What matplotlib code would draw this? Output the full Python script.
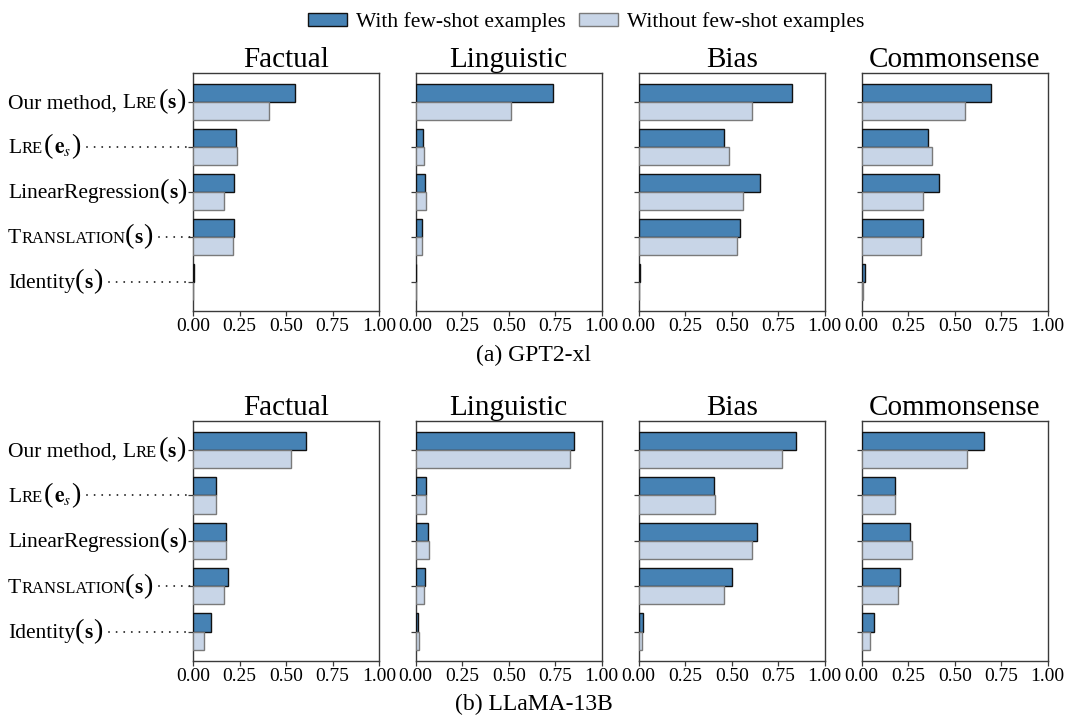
import matplotlib
matplotlib.use("Agg")
import matplotlib.pyplot as plt
import numpy as np
from matplotlib.offsetbox import TextArea, HPacker, AnnotationBbox
from matplotlib import transforms
from matplotlib.lines import Line2D
from matplotlib.patches import Patch

# ---------------- data ----------------
methods = ["Our method, LRE(s)", "LRE(e_s)", "LinearRegression(s)", "Translation(s)", "Identity(s)"]
relations = ["Factual", "Linguistic", "Bias", "Commonsense"]
models = ["(a) GPT2-xl", "(b) LLaMA-13B"]
legend_labels = ["With few-shot examples", "Without few-shot examples"]
xtick_vals = [0.0, 0.25, 0.5, 0.75, 1.0]
xtick_labels = ["0.00", "0.25", "0.50", "0.75", "1.00"]

# GPT2-xl
gpt2_factual_with = [0.547, 0.233, 0.219, 0.223, 0.005]
gpt2_factual_without = [0.406, 0.239, 0.169, 0.216, 0.002]
gpt2_linguistic_with = [0.740, 0.041, 0.052, 0.032, 0.003]
gpt2_linguistic_without = [0.511, 0.043, 0.054, 0.034, 0.001]
gpt2_bias_with = [0.823, 0.460, 0.650, 0.547, 0.007]
gpt2_bias_without = [0.610, 0.487, 0.562, 0.528, 0.002]
gpt2_commonsense_with = [0.697, 0.358, 0.416, 0.331, 0.016]
gpt2_commonsense_without = [0.554, 0.376, 0.331, 0.320, 0.009]

# LLaMA-13B
llama_factual_with = [0.605, 0.126, 0.180, 0.187, 0.099]
llama_factual_without = [0.525, 0.125, 0.175, 0.169, 0.061]
llama_linguistic_with = [0.850, 0.054, 0.065, 0.048, 0.010]
llama_linguistic_without = [0.832, 0.054, 0.070, 0.043, 0.016]
llama_bias_with = [0.844, 0.404, 0.637, 0.503, 0.022]
llama_bias_without = [0.772, 0.411, 0.609, 0.460, 0.018]
llama_commonsense_with = [0.659, 0.180, 0.262, 0.206, 0.065]
llama_commonsense_without = [0.565, 0.180, 0.271, 0.195, 0.045]

panels = [
    [(gpt2_factual_with, gpt2_factual_without),
     (gpt2_linguistic_with, gpt2_linguistic_without),
     (gpt2_bias_with, gpt2_bias_without),
     (gpt2_commonsense_with, gpt2_commonsense_without)],
    [(llama_factual_with, llama_factual_without),
     (llama_linguistic_with, llama_linguistic_without),
     (llama_bias_with, llama_bias_without),
     (llama_commonsense_with, llama_commonsense_without)],
]

# ---------------- style ----------------
plt.rcParams["font.family"] = ["Liberation Serif", "DejaVu Serif"]
plt.rcParams["mathtext.fontset"] = "stix"

C_WITH = "#4682b4"
C_WITHOUT = "#c8d5e7"
E_WITH = "#111111"
E_WITHOUT = "#7a7a7a"
SPINE = "#3a3a3a"

W, H = 1068, 719
fig = plt.figure(figsize=(W / 100, H / 100), dpi=100)

col_lefts = [193, 415.7, 638.7, 861.7]
col_width = 186
row_spans = [(72.7, 310.7), (421.0, 660.7)]
caption_y = [355, 704]

LBL = 15.5
SC = 12.0
PAR = 20.5


def label_pieces(name):
    def t(s, size=LBL, weight="normal"):
        return TextArea(s, textprops=dict(fontsize=size, fontweight=weight,
                                          family=["Liberation Serif", "DejaVu Serif"]))
    s_bold = t("s", weight="bold")
    lp, rp = t("(", PAR), t(")", PAR)
    if name.startswith("Our method"):
        parts = [t("Our method, "), t("L"), t("RE", SC), t(" ", 5), lp, s_bold, rp]
    elif name.startswith("LRE(e_s)"):
        parts = [t("L"), t("RE", SC), t(" ", 5), lp, t(r"$\mathbf{e}_{s}$"), rp]
    elif name.startswith("LinearRegression"):
        parts = [t("LinearRegression"), lp, s_bold, rp]
    elif name.startswith("Translation"):
        parts = [t("T"), t("RANSLATION", SC), lp, s_bold, rp]
    else:
        parts = [t("Identity"), lp, s_bold, rp]
    return HPacker(children=parts, sep=0, pad=0, align="baseline")


label_boxes = []
y = np.arange(len(methods))
for r, (top, bot) in enumerate(row_spans):
    for c, rel in enumerate(relations):
        ax = fig.add_axes([col_lefts[c] / W, 1 - bot / H, col_width / W, (bot - top) / H])
        vw, vwo = panels[r][c]
        ax.barh(y - 0.2, vw, height=0.4, color=C_WITH, edgecolor=E_WITH, linewidth=1.0, zorder=3)
        ax.barh(y + 0.2, vwo, height=0.4, color=C_WITHOUT, edgecolor=E_WITHOUT, linewidth=1.0, zorder=3)
        ax.set_xlim(0, 1)
        ax.set_ylim(4.64, -0.64)
        ax.set_xticks(xtick_vals)
        ax.set_xticklabels(xtick_labels, fontsize=14)
        ax.set_yticks(y)
        ax.set_yticklabels([])
        ax.tick_params(axis="both", direction="out", length=3.5, width=0.9, color=SPINE, pad=2)
        for sp in ax.spines.values():
            sp.set_color(SPINE)
            sp.set_linewidth(1.0)
        ax.set_title(rel, fontsize=21, pad=1.5)
        if c == 0:
            trans = transforms.blended_transform_factory(fig.transFigure, ax.transData)
            for i, m in enumerate(methods):
                ab = AnnotationBbox(label_pieces(m), (8 / W, i), xycoords=trans,
                                    box_alignment=(0, 0.5), frameon=False, pad=0)
                ax.add_artist(ab)
                label_boxes.append((ab, ax, i))
    fig.text(0.5, 1 - caption_y[r] / H, models[r], ha="center", va="center", fontsize=17)

handles = [Patch(facecolor=C_WITH, edgecolor=E_WITH, linewidth=1.0),
           Patch(facecolor=C_WITHOUT, edgecolor=E_WITHOUT, linewidth=1.0)]
fig.legend(handles, legend_labels, loc="upper center", bbox_to_anchor=(0.549, 1.001),
           ncol=2, frameon=False, fontsize=15.5, handlelength=1.8, handleheight=0.6,
           columnspacing=0.6, handletextpad=0.45, borderaxespad=0.2)

# dotted leaders from labels to the axis
fig.canvas.draw()
renderer = fig.canvas.get_renderer()
inv = fig.transFigure.inverted()
for ab, ax, i in label_boxes:
    bb = ab.get_window_extent(renderer)
    x0 = bb.x1 + 7
    axbb = ax.get_window_extent(renderer)
    x1 = axbb.x0 - 3
    yp = ax.transData.transform((0, i))[1]
    if x1 - x0 > 14:
        (fx0, fy), (fx1, _) = inv.transform([(x0, yp), (x1, yp)])
        fig.add_artist(Line2D([fx0, fx1], [fy, fy], transform=fig.transFigure,
                              color="#222222", linewidth=1.4,
                              linestyle=(0, (0.01, 3.9)), dash_capstyle="round"))

fig.savefig("out.png", dpi=100)
